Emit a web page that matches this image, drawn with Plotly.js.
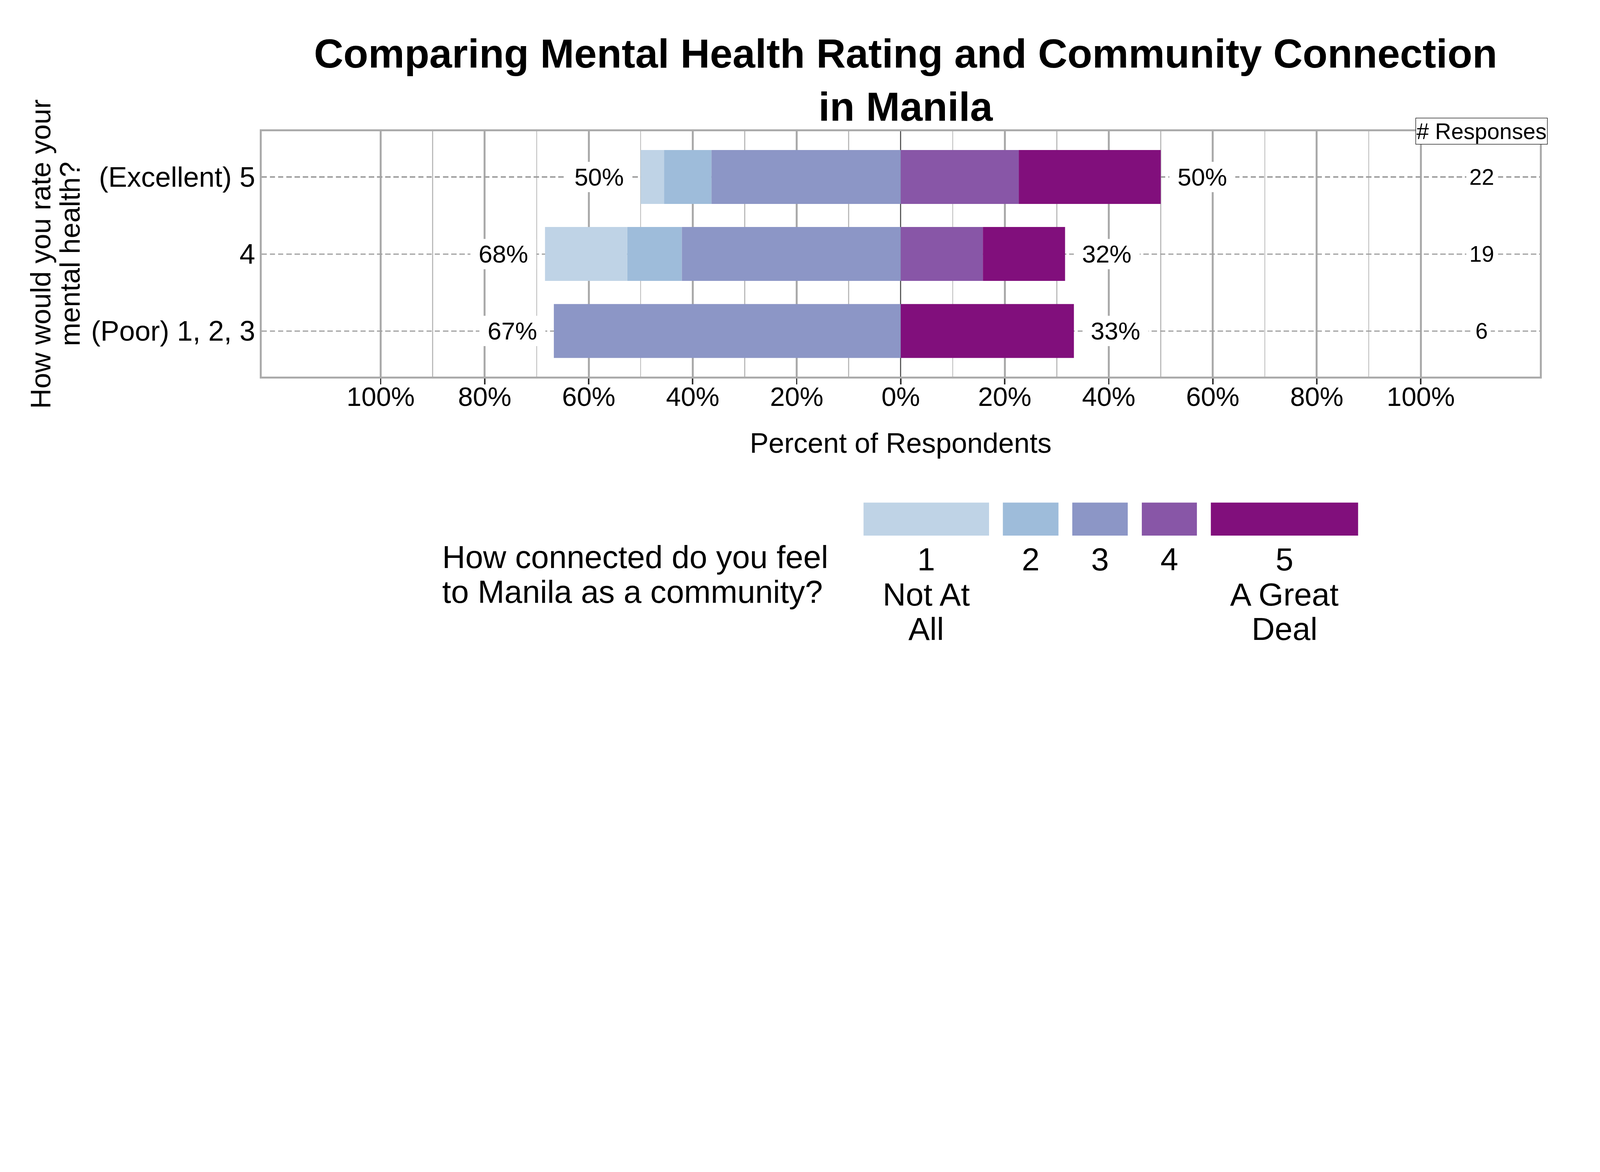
<!DOCTYPE html>
<html>
<head>
<meta charset="utf-8">
<script src="https://cdn.plot.ly/plotly-3.0.1.min.js"></script>
<style>
  html, body { margin: 0; padding: 0; background: #ffffff; overflow: hidden; }
  #myDiv { width: 6600px; height: 3000px; transform-origin: 0 0; }
</style>
</head>
<body>
<div id="myDiv"></div>
<script>
// rows, bottom to top
var rowLabels = ['(Poor) 1, 2, 3', '4', '(Excellent) 5'];
var nResponses = [6, 19, 22];

// percent of respondents per answer to "how connected" (1 = Not At All ... 5 = A Great Deal)
var pct1 = [0, 15.8, 4.5];
var pct2 = [0, 10.5, 9.1];
var pct3 = [66.7, 42.1, 36.4];
var pct4 = [0, 15.8, 22.7];
var pct5 = [33.3, 15.8, 27.3];

var catNames = ['1', '2', '3', '4', '5'];
var catColors = ['#BFD3E6', '#9EBCDA', '#8C96C6', '#8856A7', '#810F7C'];
var legendText = [['1', 'Not At', 'All'], ['2'], ['3'], ['4'], ['5', 'A Great', 'Deal']];

var tickVals = [-100, -80, -60, -40, -20, 0, 20, 40, 60, 80, 100];
var tickText = ['100%', '80%', '60%', '40%', '20%', '0%', '20%', '40%', '60%', '80%', '100%'];
var minorVals = [-90, -70, -50, -30, -10, 10, 30, 50, 70, 90];

var FONT = 'Liberation Sans, Arial, sans-serif';

// the chart is laid out for 6600x3000; shrink it if the window is smaller
var W = 6600, H = 3000;
var s = Math.min(1, (window.innerWidth || W) / W, (window.innerHeight || H) / H);
if (s < 1) {
    document.getElementById('myDiv').style.transform = 'scale(' + s + ')';
}

function neg(a) { return a.map(function (v) { return -v; }); }

// 1-3 go left of zero, 4-5 go right; trace order = stacking order from zero outwards
function barTrace(vals, idx, left) {
    return {
        type: 'bar',
        orientation: 'h',
        y: rowLabels,
        x: left ? neg(vals) : vals,
        name: catNames[idx],
        marker: { color: catColors[idx], line: { width: 0 } },
        hoverinfo: 'skip',
        showlegend: false
    };
}

var donnees = [
    barTrace(pct3, 2, true),
    barTrace(pct2, 1, true),
    barTrace(pct1, 0, true),
    barTrace(pct4, 3, false),
    barTrace(pct5, 4, false)
];

var annotations = [];
var labelFont = { family: FONT, size: 102, color: '#000000' };

// y of annotations = category index (a label like '4' would be read as a number)
for (var i = 0; i < rowLabels.length; i++) {
    var leftTot = pct1[i] + pct2[i] + pct3[i];
    var rightTot = pct4[i] + pct5[i];
    annotations.push({
        x: -leftTot - 8, y: i, xref: 'x', yref: 'y',
        text: '\u00a0' + Math.round(leftTot) + '%\u00a0', showarrow: false,
        font: labelFont, bgcolor: '#ffffff', borderpad: 5,
        xanchor: 'center', yanchor: 'middle'
    });
    annotations.push({
        x: rightTot + 8, y: i, xref: 'x', yref: 'y',
        text: '\u00a0' + Math.round(rightTot) + '%\u00a0', showarrow: false,
        font: labelFont, bgcolor: '#ffffff', borderpad: 5,
        xanchor: 'center', yanchor: 'middle'
    });
    // number of responses column
    annotations.push({
        x: 111.7, y: i, xref: 'x', yref: 'y',
        text: String(nResponses[i]), showarrow: false,
        font: { family: FONT, size: 92, color: '#000000' },
        bgcolor: '#ffffff', borderpad: 12,
        xanchor: 'center', yanchor: 'middle'
    });
}

annotations.push({
    x: 111.7, y: 1, xref: 'x', yref: 'paper',
    text: '# Responses', showarrow: false,
    font: { family: FONT, size: 92, color: '#000000' },
    bgcolor: '#ffffff', bordercolor: '#000000', borderwidth: 2, borderpad: 2,
    xanchor: 'center', yanchor: 'middle'
});

// axis titles
annotations.push({
    x: 0.5, y: -0.2705, xref: 'paper', yref: 'paper',
    text: 'Percent of Respondents', showarrow: false,
    font: { family: FONT, size: 116, color: '#000000' },
    xanchor: 'center', yanchor: 'middle'
});
annotations.push({
    x: -0.1730, y: 0.5, xref: 'paper', yref: 'paper', textangle: -90,
    text: 'How would you rate your', showarrow: false,
    font: { family: FONT, size: 116, color: '#000000' },
    xanchor: 'center', yanchor: 'middle'
});
annotations.push({
    x: -0.1500, y: 0.5, xref: 'paper', yref: 'paper', textangle: -90,
    text: 'mental health?', showarrow: false,
    font: { family: FONT, size: 116, color: '#000000' },
    xanchor: 'center', yanchor: 'middle'
});

// legend, drawn by hand under the plot
var legFont = { family: FONT, size: 132, color: '#000000' };
annotations.push({
    x: 0.1409, y: -0.7335, xref: 'paper', yref: 'paper',
    text: 'How connected do you feel', showarrow: false, font: legFont,
    xanchor: 'left', yanchor: 'middle'
});
annotations.push({
    x: 0.1409, y: -0.8756, xref: 'paper', yref: 'paper',
    text: 'to Manila as a community?', showarrow: false, font: legFont,
    xanchor: 'left', yanchor: 'middle'
});

var keyX = [[0.4709, 0.5691], [0.5799, 0.6234], [0.6342, 0.6776], [0.6886, 0.7317], [0.7426, 0.8578]];
var lineY = [-0.7443, -0.8855, -1.0267];
var shapes = [];
for (var k = 0; k < catNames.length; k++) {
    shapes.push({
        type: 'rect', xref: 'paper', yref: 'paper',
        x0: keyX[k][0], x1: keyX[k][1], y0: -0.6466, y1: -0.5123,
        fillcolor: catColors[k], line: { width: 0 }
    });
    for (var j = 0; j < legendText[k].length; j++) {
        annotations.push({
            x: (keyX[k][0] + keyX[k][1]) / 2, y: lineY[j], xref: 'paper', yref: 'paper',
            text: legendText[k][j], showarrow: false, font: legFont,
            xanchor: 'center', yanchor: 'middle'
        });
    }
}

var layout = {
    width: W,
    height: H,
    margin: { l: 1079, r: 248, t: 541, b: 1446, pad: 0 },
    paper_bgcolor: '#ffffff',
    plot_bgcolor: '#ffffff',
    font: { family: FONT, color: '#000000' },
    title: {
        text: 'Comparing Mental Health Rating and Community Connection<br>in Manila',
        font: { family: FONT, size: 168, weight: 'bold', color: '#000000' },
        xref: 'container', x: 0.566, xanchor: 'center',
        yref: 'container', y: 0.9070, yanchor: 'top'
    },
    barmode: 'relative',
    bargap: 0.3,
    showlegend: false,
    hovermode: false,
    xaxis: {
        range: [-122.9, 122.9],
        tickmode: 'array', tickvals: tickVals, ticktext: tickText,
        tickfont: { family: FONT, size: 110, color: '#000000' },
        ticks: 'outside', ticklen: 23, tickwidth: 6, tickcolor: '#333333',
        ticklabelstandoff: -43,
        showgrid: true, gridcolor: '#AAAAAA', gridwidth: 8,
        minor: { tickmode: 'array', tickvals: minorVals, showgrid: true, gridcolor: '#BBBBBB', gridwidth: 4, ticks: '' },
        zeroline: true, zerolinecolor: '#5A5A5A', zerolinewidth: 5,
        showline: true, mirror: true, linecolor: '#ABABAB', linewidth: 8,
        fixedrange: true
    },
    yaxis: {
        type: 'category', categoryorder: 'array', categoryarray: rowLabels,
        range: [-0.595, 2.595],
        tickfont: { family: FONT, size: 116, color: '#000000' },
        ticks: '', ticklabelstandoff: -5,
        showgrid: true, gridcolor: '#A0A0A0', gridwidth: 5, griddash: '22px,12px',
        zeroline: false,
        showline: true, mirror: true, linecolor: '#ABABAB', linewidth: 8,
        fixedrange: true
    },
    annotations: annotations,
    shapes: shapes
};

Plotly.newPlot('myDiv', donnees, layout, { displayModeBar: false });
</script>
</body>
</html>
